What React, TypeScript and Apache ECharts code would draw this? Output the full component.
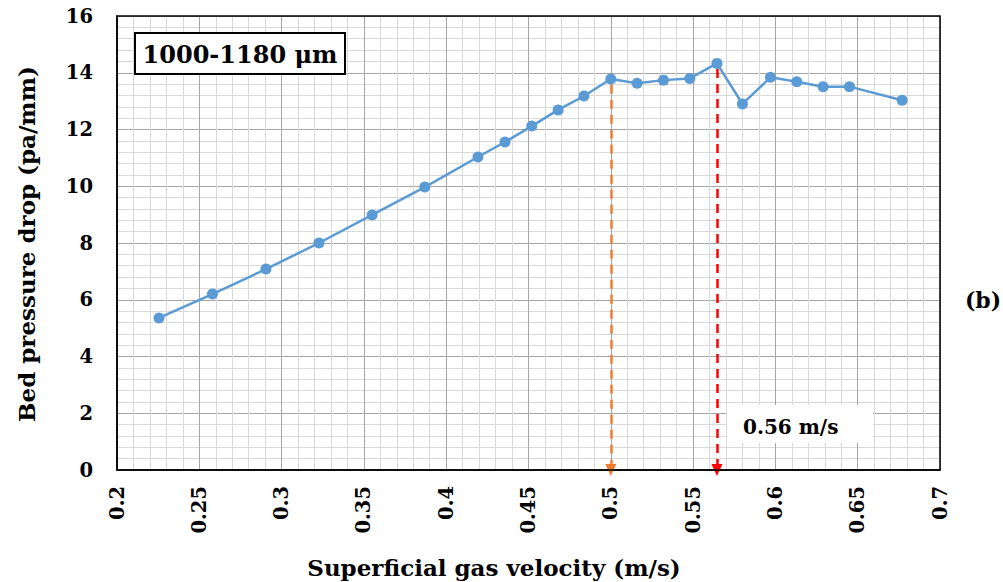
import React, { useEffect, useRef } from "react";
import * as echarts from "echarts";

const velocity = [0.2255, 0.258, 0.2905, 0.3227, 0.355, 0.387, 0.4193, 0.4357, 0.452, 0.468, 0.4837, 0.5, 0.516, 0.532, 0.548, 0.5645, 0.58, 0.597, 0.613, 0.629, 0.645, 0.677];
const pressureDrop = [5.36, 6.2, 7.08, 8.0, 8.99, 9.97, 11.03, 11.56, 12.12, 12.69, 13.18, 13.78, 13.63, 13.74, 13.8, 14.33, 12.9, 13.84, 13.68, 13.51, 13.51, 13.03];
const orangeMarker = { x: 0.5, y: 13.78 };
const redMarker = { x: 0.5645, y: 14.33 };
const titleText = "1000-1180 μm";
const noteText = "0.56 m/s";
const panelText = "(b)";
const xAxisTitle = "Superficial gas velocity (m/s)";
const yAxisTitle = "Bed pressure drop (pa/mm)";

const FONT = "'DejaVu Serif', 'Liberation Serif', serif";

export default function App() {
  const ref = useRef<HTMLDivElement>(null);
  useEffect(() => {
    document.body.style.margin = "0";
    const chart = echarts.init(ref.current!, null, { renderer: "svg" });
    const gridL = 117, gridT = 16, gridR = 63, gridB = 112;
    chart.setOption({
      animation: false,
      backgroundColor: "#ffffff",
      grid: { left: gridL, top: gridT, right: gridR, bottom: gridB },
      xAxis: {
        type: "value",
        min: 0.2,
        max: 0.7,
        interval: 0.05,
        axisLine: { show: true, lineStyle: { color: "#000", width: 1.5 } },
        axisTick: { show: false },
        axisLabel: { rotate: 90, margin: 16, fontFamily: FONT, fontWeight: "bold", fontSize: 19.5, color: "#000" },
        splitLine: { show: true, lineStyle: { color: "#a6a6a6", width: 1 } },
        minorTick: { show: false, splitNumber: 5 },
        minorSplitLine: { show: true, lineStyle: { color: "#d9d9d9", width: 1 } },
      },
      yAxis: {
        type: "value",
        min: 0,
        max: 16,
        interval: 2,
        axisLine: { show: true, lineStyle: { color: "#000", width: 1.5 } },
        axisTick: { show: false },
        axisLabel: { margin: 24, fontFamily: FONT, fontWeight: "bold", fontSize: 19.5, color: "#000" },
        splitLine: { show: true, lineStyle: { color: "#a6a6a6", width: 1 } },
        minorTick: { show: false, splitNumber: 5 },
        minorSplitLine: { show: true, lineStyle: { color: "#d9d9d9", width: 1 } },
      },
      series: [
        {
          type: "line",
          data: velocity.map((v, i) => [v, pressureDrop[i]]),
          symbol: "circle",
          symbolSize: 11,
          z: 5,
          lineStyle: { color: "#5b9bd5", width: 2.5 },
          itemStyle: { color: "#5b9bd5" },
          markLine: {
            silent: true,
            label: { show: false },
            symbolSize: [11, 12],
            z: 4,
            data: [
              [
                { coord: [orangeMarker.x, orangeMarker.y - 0.2], symbol: "none", lineStyle: { color: "#ed7d31", width: 2.5, type: [9, 6] }, itemStyle: { color: "#ed7d31" } },
                { coord: [orangeMarker.x, 0], symbol: "triangle", itemStyle: { color: "#ed7d31" } },
              ],
              [
                { coord: [redMarker.x, redMarker.y - 0.2], symbol: "none", lineStyle: { color: "#ff0000", width: 2.5, type: [9, 6] }, itemStyle: { color: "#ff0000" } },
                { coord: [redMarker.x, 0], symbol: "triangle", itemStyle: { color: "#ff0000" } },
              ],
            ],
          },
        },
      ],
      graphic: [
        {
          type: "rect",
          z: 100,
          silent: true,
          shape: { x: gridL, y: gridT, width: 1003 - gridL - gridR, height: 582 - gridT - gridB },
          style: { fill: "none", stroke: "#000", lineWidth: 1.5 },
        },
        {
          type: "rect",
          z: 100,
          shape: { x: 135, y: 33, width: 210, height: 41 },
          style: { fill: "#fff", stroke: "#000", lineWidth: 2 },
        },
        {
          type: "text",
          z: 101,
          x: 240,
          y: 54,
          style: { text: titleText, fontFamily: FONT, fontWeight: "bold", fontSize: 24, fill: "#000", align: "center", verticalAlign: "middle" },
        },
        {
          type: "rect",
          z: 100,
          shape: { x: 727, y: 405, width: 146, height: 38 },
          style: { fill: "#fff", stroke: "none" },
        },
        {
          type: "text",
          z: 101,
          x: 743,
          y: 427,
          style: { text: noteText, fontFamily: FONT, fontWeight: "bold", fontSize: 20, fill: "#000", align: "left", verticalAlign: "middle" },
        },
        {
          type: "text",
          z: 101,
          x: 983,
          y: 300,
          style: { text: panelText, fontFamily: FONT, fontWeight: "bold", fontSize: 22, fill: "#000", align: "center", verticalAlign: "middle" },
        },
        {
          type: "text",
          z: 101,
          x: 494,
          y: 567,
          style: { text: xAxisTitle, fontFamily: FONT, fontWeight: "bold", fontSize: 23, fill: "#000", align: "center", verticalAlign: "middle" },
        },
        {
          type: "text",
          z: 101,
          x: 26,
          y: 244,
          rotation: Math.PI / 2,
          style: { text: yAxisTitle, fontFamily: FONT, fontWeight: "bold", fontSize: 23, fill: "#000", align: "center", verticalAlign: "middle" },
        },
      ],
    });
    return () => chart.dispose();
  }, []);
  return <div ref={ref} style={{ width: 1003, height: 582 }} />;
}
